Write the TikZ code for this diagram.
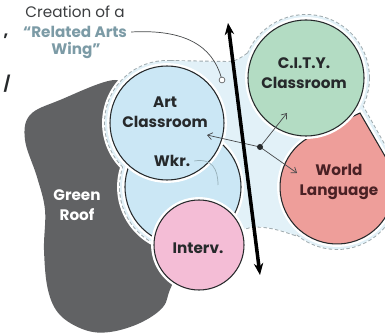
\documentclass[tikz,border=0pt]{standalone}
\usepackage{fontspec}
\setmainfont{Poppins}
\usetikzlibrary{arrows.meta}

\definecolor{roofgrey}{HTML}{616264}
\definecolor{wingfill}{HTML}{E2F1F8}
\definecolor{wingline}{HTML}{9FAAAE}
\definecolor{artblue}{HTML}{CBE7F5}
\definecolor{citygreen}{HTML}{B3DCC3}
\definecolor{worldred}{HTML}{EE9E9A}
\definecolor{intervpink}{HTML}{F4BDD6}
\definecolor{inkdark}{HTML}{26292B}
\definecolor{worldink}{HTML}{4A2125}
\definecolor{wingtext}{HTML}{7C9BA6}

\tikzset{
  room/.style={preaction={draw=white, line width=5pt}, draw=inkdark, line width=0.9pt},
  roomtext/.style={font=\fontsize{13}{17}\selectfont\bfseries, text=inkdark, align=center},
  pointer/.style={draw=inkdark!85, line width=0.6pt, -{Straight Barb[length=4pt,width=6pt]}},
}

% the light blue wing, drawn three times
\newcommand\wingparts[1]{%
  \path[#1] (167,211) circle (62);
  \path[#1] (183,147) circle (63);
  \path[#1] (306,256) circle (63);
  \path[#1] (362,229) -- ([shift={(337,147)}]115.3:62) arc[start angle=115.3, end angle=390.1, radius=62] -- cycle;
  \path[#1] (170,273) -- (228,272) .. controls (240,272) and (246,281) .. (254,284) -- (300,234) -- (330,170)
    -- (295,99) .. controls (275,106) and (255,112) .. (236,102) -- (200,150) -- cycle;
}

\begin{document}
\begin{tikzpicture}[x=0.3mm, y=0.3mm]
\useasboundingbox (0,0) rectangle (385,334);
% Roof
\fill[roofgrey] plot[smooth cycle, tension=0.6] coordinates {(115,254) (60,234) (30,219) (25,194) (37,157) (45,124)
  (44,84) (48,44) (60,19) (85,4) (110,2) (140,11) (163,27) (172,49) (200,104) (160,184) (130,234)};
% Wing
\wingparts{draw=white, line width=5pt}
\wingparts{draw=wingline, line width=1.6pt, dash pattern=on 3pt off 2pt}
\wingparts{fill=wingfill}
% Rooms
\draw[room, fill=artblue] (183,147) circle (58);
\draw[room, fill=artblue] (167,211) circle (57);
\draw[room, fill=intervpink] (199,89) circle (45);
\draw[room, fill=worldred] (360,221) -- ([shift={(337,147)}]115.3:57) arc[start angle=115.3, end angle=390.1, radius=57] -- cycle;
\draw[room, fill=citygreen] (306,256) circle (58);
% Labels
\node[roomtext] (art) at (165,222) {Art\\Classroom};
\node[roomtext] (wkr) at (172,173) {Wkr.};
\node[roomtext] (interv) at (198,86) {Interv.};
\node[roomtext] (city) at (304,261) {C.I.T.Y.\\Classroom};
\node[roomtext, text=worldink] (world) at (339,152) {World\\Language};
\node[roomtext, text=white] (roof) at (77,129) {Green\\Roof};
% Note
\node[font=\fontsize{13}{17}\selectfont, text=inkdark!90] (creation) at (75,322) {Creation of a};
\node[font=\fontsize{13}{17}\selectfont\bfseries, text=wingtext] (related) at (75,302) {“Related Arts};
\node[font=\fontsize{13}{17}\selectfont\bfseries, text=wingtext] (wing) at (76,284) {Wing”};
\node[font=\fontsize{14}{17}\selectfont\bfseries, text=inkdark] (comma) at (6,298) {,};
\node[font=\fontsize{13}{17}\selectfont\bfseries, text=inkdark] (slash) at (7,250) {/};
\node[circle, draw=inkdark!70, fill=white, line width=0.6pt, inner sep=0pt, minimum size=5pt] (ring) at (222,254) {};
\draw[inkdark!85, line width=0.6pt] (related.east) .. controls (185,305) and (212,288) .. (ring);
% Wkr. pointer
\coordinate (wkrend) at (218,149);
\draw[draw=wingtext!80, line width=0.6pt] (wkr.east) .. controls (212,176) and (218,165) .. (wkrend);
% Links
\coordinate (hub) at (260,187);
\coordinate (artend) at (207,199);
\coordinate (cityend) at (287,221);
\coordinate (worldend) at (297,161);
\draw[pointer] (hub) -- (artend);
\draw[pointer] (hub) -- (cityend);
\draw[pointer] (hub) -- (worldend);
\fill[inkdark] (hub) circle (3);
% Axis
\coordinate (axtop) at (228,311);
\coordinate (axbot) at (260,59);
\draw[line width=3pt, {Stealth[length=10pt,width=8pt]}-{Stealth[length=10pt,width=8pt]}] (axtop) -- (axbot);
\end{tikzpicture}
\end{document}
